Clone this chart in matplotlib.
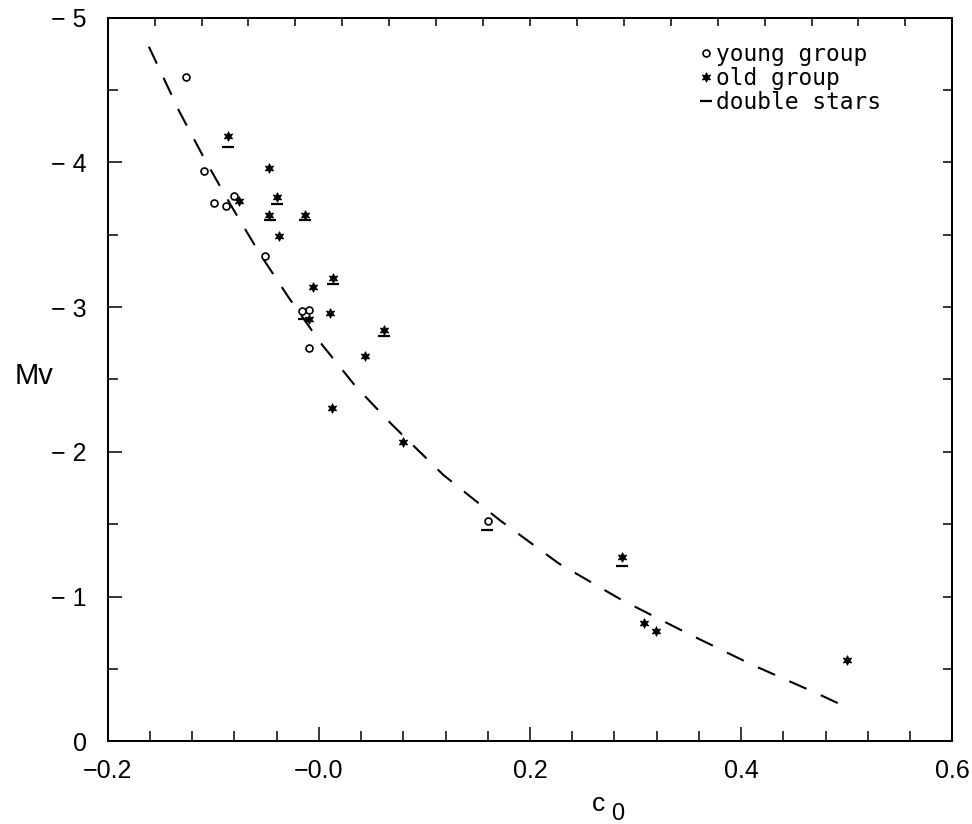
import numpy as np
import matplotlib
matplotlib.use("Agg")
import matplotlib.pyplot as plt
from matplotlib.ticker import MultipleLocator

plt.rcParams['font.family'] = ['Liberation Sans', 'DejaVu Sans']

# young group (open circles): colour index c0 and absolute magnitude Mv
young_c0 = [-0.126, -0.109, -0.099, -0.088, -0.080, -0.051, -0.016, -0.009, -0.009, 0.160]
young_mv = [-4.59, -3.94, -3.72, -3.70, -3.77, -3.35, -2.97, -2.98, -2.72, -1.52]

# old group (stars)
old_c0 = [-0.086, -0.047, -0.076, -0.040, -0.047, -0.013, -0.038, -0.006, 0.013,
          -0.009, 0.011, 0.062, 0.044, 0.012, 0.080, 0.287, 0.308, 0.319, 0.500]
old_mv = [-4.18, -3.96, -3.73, -3.76, -3.64, -3.64, -3.49, -3.14, -3.20,
          -2.92, -2.96, -2.84, -2.66, -2.30, -2.07, -1.27, -0.82, -0.76, -0.56]

# double stars (short bars under the symbol)
dbl_c0 = [-0.086, -0.040, -0.046, -0.013, 0.013, -0.014, 0.062, 0.159, 0.287]
dbl_mv = [-4.11, -3.71, -3.60, -3.60, -3.16, -2.92, -2.80, -1.46, -1.21]

# calibration curve
curve_c0 = [-0.161, -0.132, -0.108, -0.083, -0.056, -0.028, 0.002, 0.034, 0.069,
            0.118, 0.171, 0.227, 0.286, 0.348, 0.410, 0.472, 0.500]
curve_mv = [-4.80, -4.35, -4.02, -3.70, -3.37, -3.06, -2.75, -2.46, -2.19,
            -1.84, -1.53, -1.23, -0.98, -0.75, -0.53, -0.33, -0.235]

xtick_vals = [-0.2, 0.0, 0.2, 0.4, 0.6]
xtick_text = ['\u22120.2', '\u22120.0', '0.2', '0.4', '0.6']
ytick_vals = [0, -1, -2, -3, -4, -5]
ytick_text = ['0', '\u2212 1', '\u2212 2', '\u2212 3', '\u2212 4', '\u2212 5']

fig = plt.figure(figsize=(9.72, 8.24), dpi=100)
ax = fig.add_axes([0.1108, 0.1004, 0.8689, 0.8781])

ax.plot(curve_c0, curve_mv, color='k', lw=1.5, linestyle=(0, (9, 7.5)))

ax.plot(young_c0, young_mv, linestyle='none', marker='o', ms=5.0,
        mfc='white', mec='k', mew=1.2, label='young group')
ax.plot(old_c0, old_mv, linestyle='none', marker=(6, 1, 0), ms=7.0,
        color='k', mew=0.6, label='old group')
ax.plot(dbl_c0, dbl_mv, linestyle='none', marker='_', ms=8, mew=1.6,
        color='k', label='double stars')

ax.set_xlim(-0.2, 0.6)
ax.set_ylim(0, -5)

ax.set_xticks(xtick_vals)
ax.set_xticklabels(xtick_text)
ax.set_yticks(ytick_vals)
ax.set_yticklabels(ytick_text)
ax.xaxis.set_minor_locator(MultipleLocator(0.04))
ax.yaxis.set_minor_locator(MultipleLocator(0.5))

for s in ax.spines.values():
    s.set_linewidth(1.45)

ax.tick_params(which='both', direction='in', top=False, right=False, width=1.1)
ax.tick_params(which='major', length=10)
ax.tick_params(which='minor', length=7.2)
ax.tick_params(axis='x', which='major', labelsize=18, pad=12.5)
ax.tick_params(axis='y', which='major', labelsize=18, pad=15)

# top and right axes carry only short inward ticks
top = ax.secondary_xaxis('top')
top.set_xticks(np.linspace(-0.2, 0.6, 19)[1:-1])
top.tick_params(direction='in', length=6, width=1.1, labeltop=False)
top.spines['top'].set_visible(False)

right = ax.secondary_yaxis('right')
right.set_yticks(np.arange(-4.5, 0, 0.5))
right.tick_params(direction='in', length=6.3, width=1.1, labelright=False)
right.spines['right'].set_visible(False)

fig.text(34 / 972, 1 - 376.5 / 824, 'Mv', fontsize=21, ha='center', va='center')
fig.text(598.5 / 972, 1 - 804 / 824, 'c', fontsize=19, ha='center', va='center')
fig.text(617.5 / 972, 1 - 814 / 824, '0', fontsize=17, ha='center', va='center')

leg = ax.legend(loc='upper left', bbox_to_anchor=(699 / 972, 1 - 43 / 824),
                bbox_transform=fig.transFigure, frameon=False, numpoints=1,
                handlelength=0.6, handletextpad=0.15, labelspacing=0.05,
                borderpad=0, borderaxespad=0,
                prop={'family': 'DejaVu Sans Mono', 'size': 16.5})

fig.savefig('out.png', dpi=100)
